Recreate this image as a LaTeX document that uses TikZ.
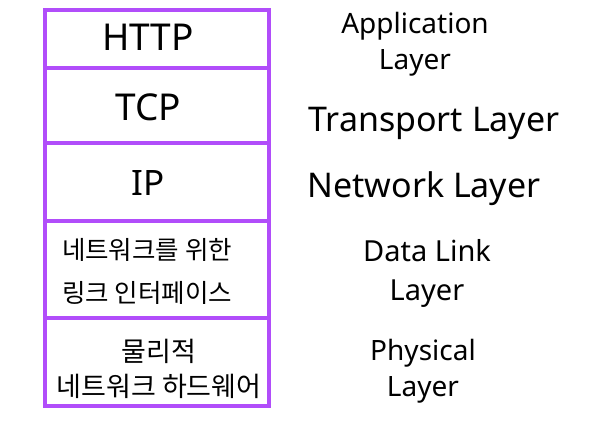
\documentclass[tikz,border=0pt]{standalone}
\usepackage{fontspec}
\setmainfont{Noto Sans}
\newfontfamily\kr{Noto Sans CJK KR}
\usetikzlibrary{positioning}
\definecolor{layerpurple}{RGB}{177,77,250}

\begin{document}
\begin{tikzpicture}
[
	x=1pt, y=-1pt,
	layer/.style={draw=layerpurple, line width=4pt, minimum width=224pt, inner sep=0pt, outer sep=0pt},
	stacktxt/.style={align=center, inner sep=0pt},
	lbl/.style={align=center, inner sep=0pt},
]
	\useasboundingbox (0,0) rectangle (596,420);

	% protocol stack
	\node[layer, minimum height=58pt, anchor=north west] (http) at (45,10) {};
	\node[layer, minimum height=75pt, below=0pt of http] (tcp) {};
	\node[layer, minimum height=78pt, below=0pt of tcp] (ip) {};
	\node[layer, minimum height=97pt, below=0pt of ip] (link) {};
	\node[layer, minimum height=88pt, below=0pt of link] (phys) {};

	\node[stacktxt, font=\fontsize{37}{40}\selectfont] (httptxt) at ([xshift=-9pt,yshift=2pt]http.center) {HTTP};
	\node[stacktxt, font=\fontsize{37}{40}\selectfont] (tcptxt) at ([xshift=-9pt,yshift=-2pt]tcp.center) {TCP};
	\node[stacktxt, font=\fontsize{35}{40}\selectfont] (iptxt) at ([xshift=-9pt,yshift=-1pt]ip.center) {IP};
	\node[stacktxt, font=\kr\fontsize{25.5}{43}\selectfont] (linktxt) at ([xshift=-10pt,yshift=-2pt]link.center) {네트워크를 위한\\링크 인터페이스};
	\node[stacktxt, font=\kr\fontsize{27}{35}\selectfont] (physdtxt) at ([xshift=2pt,yshift=-7pt]phys.center) {물리적\\네트워크 하드웨어};

	% layer names
	\node[lbl, font=\fontsize{28}{36}\selectfont] (applbl) at (415,44) {Application\\Layer};
	\node[lbl, font=\fontsize{34}{40}\selectfont] (translbl) at (434,123) {Transport Layer};
	\node[lbl, font=\fontsize{34}{40}\selectfont] (netlbl) at (424,189) {Network Layer};
	\node[lbl, font=\fontsize{29}{39}\selectfont] (linklbl) at (427,273) {Data Link\\Layer};
	\node[lbl, font=\fontsize{28}{36}\selectfont] (physlbl) at (423,371) {Physical\\Layer};

\end{tikzpicture}
\end{document}
